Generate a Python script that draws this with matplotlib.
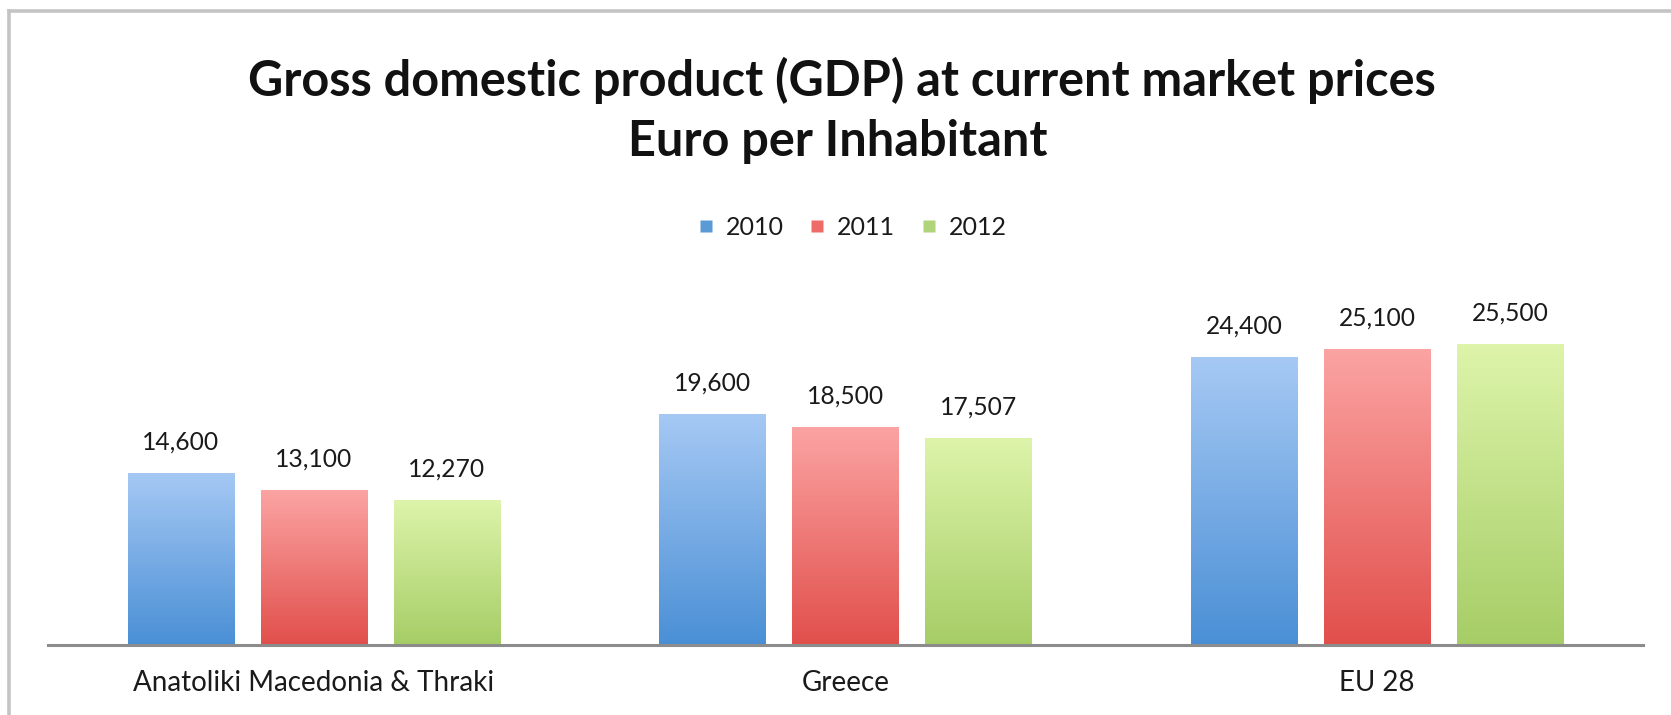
import matplotlib
matplotlib.use("Agg")
import matplotlib.pyplot as plt
import numpy as np
from matplotlib.colors import LinearSegmentedColormap
from matplotlib.lines import Line2D

categories = ["Anatoliki Macedonia & Thraki", "Greece", "EU 28"]
years = ["2010", "2011", "2012"]
gdp_2010 = [14600, 19600, 24400]
gdp_2011 = [13100, 18500, 25100]
gdp_2012 = [12270, 17507, 25500]
series = [gdp_2010, gdp_2011, gdp_2012]

grad_colors = [("#a6c9f4", "#4a8fd5"), ("#fba4a3", "#e14f4b"), ("#ddf4aa", "#a6cd66")]
legend_colors = ["#5b9bd5", "#ee6b68", "#b0d47a"]

W, H = 1671, 715
fig = plt.figure(figsize=(W / 100, H / 100), dpi=100)
fig.patch.set_facecolor("white")

ax_left, ax_right, ax_base, ax_top = 48, 1643, 645, 291
ax = fig.add_axes([ax_left / W, (H - ax_base) / H, (ax_right - ax_left) / W, (ax_base - ax_top) / H])
ax.set_xlim(-0.5, 2.5)
ax.set_ylim(0, 30000)

x = np.arange(len(categories))
width = 0.2
offsets = [-0.25, 0.0, 0.25]
for vals, off, (ctop, cbot) in zip(series, offsets, grad_colors):
    bars = ax.bar(x + off, vals, width, color=cbot, edgecolor="none", zorder=2)
    cmap = LinearSegmentedColormap.from_list("g", [cbot, ctop])
    for b, v in zip(bars, vals):
        grad = np.linspace(0, 1, 256).reshape(-1, 1)
        x0 = b.get_x()
        im = ax.imshow(grad, cmap=cmap, aspect="auto", origin="lower",
                       extent=[x0, x0 + b.get_width(), 0, v], zorder=3)
        im.set_clip_path(b)
        ax.annotate(f"{v:,}", (b.get_x() + b.get_width() / 2, v), xytext=(0, 14),
                    textcoords="offset points", ha="center", va="bottom",
                    fontsize=17.7, family="Lato", color="#1a1a1a", zorder=4)
ax.set_xlim(-0.5, 2.5)
ax.set_ylim(0, 30000)

for s in ["top", "right", "left"]:
    ax.spines[s].set_visible(False)
ax.spines["bottom"].set_color("#8c8c8c")
ax.spines["bottom"].set_linewidth(2.2)
ax.spines["bottom"].set_zorder(5)
ax.set_yticks([])
ax.set_xticks(x)
ax.set_xticklabels(categories, fontsize=20, family="Lato", color="#1a1a1a")
ax.tick_params(axis="x", length=0, pad=18)
ax.set_facecolor("none")

# Titles
fig.text(842 / W, 1 - 80 / H, "Gross domestic product (GDP) at current market prices",
         ha="center", va="center", fontsize=35, fontweight="bold", family="Lato", color="#111111")
fig.text(838 / W, 1 - 141 / H, "Euro per Inhabitant",
         ha="center", va="center", fontsize=35, fontweight="bold", family="Lato", color="#111111")

# Legend
handles = [Line2D([0], [0], marker="s", linestyle="none", markersize=9,
                  markerfacecolor=c, markeredgecolor="none") for c in legend_colors]
fig.legend(handles, years, loc="center", bbox_to_anchor=(852 / W, 1 - 227 / H), ncol=3,
           frameon=False, prop={"family": "Lato", "size": 18}, handlelength=0.7,
           handletextpad=0.45, columnspacing=1.0, labelcolor="#1a1a1a")

# Frame lines (top and left)
fig.add_artist(Line2D([9 / W, 1.0], [1 - 11 / H, 1 - 11 / H], transform=fig.transFigure,
                      color="#c4c4c4", linewidth=2.6))
fig.add_artist(Line2D([9 / W, 9 / W], [0, 1 - 11 / H], transform=fig.transFigure,
                      color="#c4c4c4", linewidth=2.6))

fig.savefig("out.png", dpi=100, facecolor="white")
